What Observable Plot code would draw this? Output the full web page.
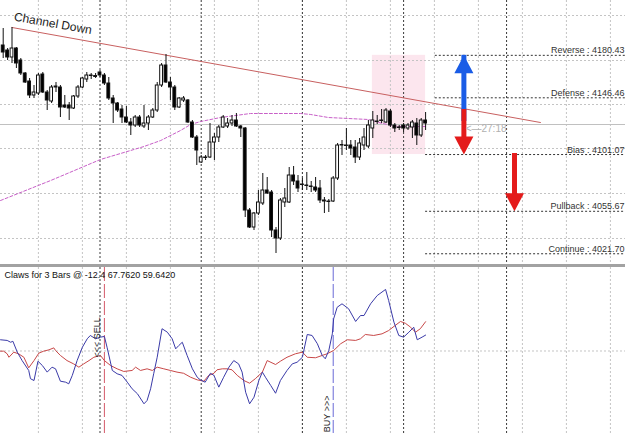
<!DOCTYPE html>
<html><head><meta charset="utf-8">
<script src="https://cdn.jsdelivr.net/npm/d3@7"></script>
<script src="https://cdn.jsdelivr.net/npm/@observablehq/plot@0.6"></script>
<style>
html,body{margin:0;padding:0;background:#fff;overflow:hidden;width:625px;height:433px}
#sep{height:3px;background:#a2a2a2}
svg{display:block}
</style></head><body>
<div id="main"></div><div id="sep"></div><div id="sub"></div>
<script>
// ---- candles (price) ----
const opens=[4188.3,4184.3,4178.7,4185.9,4176.3,4165.9,4159.5,4148.3,4149.9,4165.1,4150.7,4143.5,4154.7,4154.7,4140.3,4140.3,4137.9,4147.5,4154.7,4161.1,4164.3,4163.1,4166.7,4164.3,4157.9,4145.9,4141.9,4137.1,4130.7,4126.7,4124.3,4130.7,4123.5,4125.9,4130.7,4136.3,4156.3,4172.3,4158.7,4154.7,4138.7,4144.3,4144.3,4126.7,4114.7,4094.7,4098.3,4098.7,4110.7,4114.7,4122.7,4123.5,4125.9,4128.3,4123.5,4121.9,4056.3,4042.7,4053.9,4061.9,4072.3,4070.7,4040.3,4033.9,4062.7,4062.7,4084.3,4079.5,4077.1,4076.3,4075.5,4074.7,4073.9,4064.3,4063.5,4063.5,4081.9,4108.3,4108.3,4108.3,4106.7,4098.7,4108.3,4107.5,4121.9,4127.5,4127.9,4126.7,4135.5,4124.3,4122.7,4124.3,4121.9,4122.7,4125.9,4116.3,4128.3];
const closes=[4182.7,4178.7,4185.9,4173.9,4165.9,4158.7,4148.3,4150.7,4164.3,4150.7,4144.3,4154.7,4155.5,4138.7,4138.7,4137.9,4147.5,4154.7,4161.9,4164.3,4163.9,4163.9,4164.3,4157.9,4145.9,4141.9,4136.3,4130.7,4126.7,4124.3,4130.7,4124.3,4125.9,4130.7,4136.3,4156.3,4172.3,4158.7,4154.7,4138.7,4145.9,4145.9,4126.7,4114.7,4104.3,4098.7,4098.7,4110.7,4114.7,4122.7,4130.7,4125.9,4128.3,4123.5,4121.9,4056.3,4042.7,4053.9,4062.7,4072.3,4069.9,4040.3,4033.9,4064.3,4065.9,4084.3,4079.5,4073.9,4076.7,4075.9,4075.1,4072.3,4064.3,4063.5,4063.1,4081.9,4108.3,4108.7,4107.9,4105.9,4098.7,4109.9,4114.7,4124.3,4128.3,4127.1,4128.3,4136.3,4124.3,4121.9,4122.3,4121.9,4124.3,4126.7,4116.3,4128.3,4125.9];
const highs=[4201.9,4185.9,4202.7,4186.7,4177.9,4166.7,4161.9,4156.3,4165.9,4166.7,4152.3,4156.3,4158.7,4156.3,4148.3,4142.7,4148.3,4156.3,4162.7,4166.7,4165.9,4165.9,4168.3,4165.9,4162.7,4148.3,4142.7,4140.3,4139.5,4129.9,4132.3,4132.3,4140.3,4132.3,4137.9,4158.7,4173.9,4181.1,4162.7,4156.3,4146.7,4147.5,4145.1,4128.3,4116.3,4100.3,4100.3,4125.9,4117.9,4124.3,4132.3,4129.9,4132.3,4133.9,4124.3,4122.7,4057.9,4054.7,4072.3,4085.9,4082.7,4072.3,4042.7,4065.9,4073.9,4090.7,4091.5,4084.3,4081.9,4086.7,4079.5,4082.7,4080.3,4066.7,4065.1,4083.5,4109.9,4112.3,4121.9,4112.3,4112.3,4113.9,4121.9,4128.3,4135.5,4132.3,4137.1,4137.9,4137.1,4125.9,4124.3,4125.9,4125.9,4128.3,4129.9,4129.9,4134.7];
const lows=[4177.9,4176.3,4173.9,4169.9,4164.3,4157.9,4145.9,4145.9,4148.3,4149.9,4136.3,4141.9,4150.7,4130.7,4137.9,4128.3,4137.1,4145.9,4153.9,4158.7,4161.1,4161.9,4162.7,4156.3,4144.3,4125.9,4134.7,4125.9,4125.9,4116.3,4122.7,4122.7,4121.9,4120.3,4129.9,4134.7,4154.7,4157.9,4144.3,4136.3,4137.9,4142.7,4125.9,4113.9,4092.3,4093.9,4096.3,4097.9,4096.3,4110.7,4121.9,4121.9,4123.5,4122.7,4114.7,4050.7,4041.9,4040.3,4052.3,4060.3,4069.1,4034.7,4021.9,4032.3,4058.7,4061.9,4076.3,4070.7,4072.3,4072.3,4070.7,4070.7,4061.9,4053.9,4054.7,4062.7,4080.3,4100.3,4104.3,4100.3,4093.9,4096.3,4104.3,4105.9,4113.9,4125.1,4125.9,4125.9,4122.7,4118.7,4120.3,4118.7,4120.3,4113.9,4108.3,4114.7,4120.3];

// moving average (bar, price)
const maLine=[[-0.6,4064.3],[10.8,4080.3],[22.1,4097.1],[32.0,4107.5],[35.8,4112.3],[40.3,4120.3],[42.6,4125.1],[44.9,4127.5],[49.4,4130.7],[56.2,4133.9],[67.6,4133.9],[69.9,4133.1],[73.9,4130.7],[83.0,4129.1],[86.2,4125.9],[89.8,4123.5],[96.0,4123.5]];
// channel down trend line (bar, price)
const channelLine=[[2,4202.7],[122.1,4126.7]];
const channelLabel="Channel Down";

// levels
const levelNames=["Reverse","Defense","Bias","Pullback","Continue"];
const levelValues=[4180.43,4146.46,4101.07,4055.67,4021.70];
const levelStartBars=[98.2,98.2,96,96,96];

// zone
const zoneBars=[83.9,96];
const zonePrices=[4101.07,4180.43];

// arrows
const arrowBars=[104.7,104.7,116.2];
const arrowFrom=[4138.7,4137.1,4101.9];
const arrowTo=[4180.43,4101.07,4055.67];
const arrowColors=["#1a5ce6","#e41b1b","#e41b1b"];

const bidPrice=4125.1;
const timerText="<\u201427:18";
const timerBar=105.1, timerPrice=4121.9;

// grid
const gridBars=[8,18,28,38,48,58,68,78,88,98,108,118,128,138];
const separatorBars=[22,45,68,91,114.4];
const gridPrices=[4212.3,4176.3,4141.1,4105.9,4069.9,4033.9];

// oscillator (bar, value 0..100)
const blueLine=[[-0.6,56.8],[0.9,56.4],[1.7,55.3],[2.2,55.9],[3.2,49.3],[4.3,44.2],[5.8,38.2],[6.2,33.2],[7.0,32.1],[7.9,43.8],[8.9,41.2],[10.0,37.2],[11.1,40.2],[11.9,39.2],[13.0,31.7],[14.2,31.1],[14.9,30.1],[15.7,35.2],[16.8,44.2],[18.0,52.3],[19.1,57.4],[19.8,59.4],[21.0,57.4],[22.1,58.4],[23.0,58.8],[23.6,52.3],[24.8,38.2],[25.9,36.2],[27.0,35.2],[28.2,31.1],[29.3,27.1],[30.5,24.1],[32.0,18.0],[32.7,20.0],[33.5,27.1],[34.2,36.2],[35.0,46.2],[36.1,63.5],[37.3,61.4],[38.4,57.4],[39.2,51.3],[39.9,53.3],[40.7,55.3],[41.8,47.3],[43.0,39.2],[44.1,34.1],[44.8,32.5],[45.9,31.1],[47.1,36.5],[47.9,35.2],[49.0,28.1],[50.1,34.1],[51.3,40.2],[52.4,44.2],[53.5,42.2],[54.3,37.2],[55.1,25.0],[56.0,18.0],[57.0,22.0],[58.1,32.1],[58.9,37.2],[59.6,34.1],[60.8,29.1],[61.9,24.4],[63.0,32.1],[64.5,38.2],[65.7,42.2],[66.8,43.2],[68.0,46.2],[69.1,60.0],[70.2,59.4],[71.4,54.4],[72.5,47.3],[73.2,45.3],[74.0,50.3],[74.8,60.4],[75.1,69.5],[75.9,76.5],[77.0,78.6],[78.5,75.6],[80.1,67.9],[81.2,71.5],[82.0,71.5],[83.5,78.6],[85.0,83.6],[86.9,87.3],[87.6,80.6],[88.8,67.5],[89.9,59.4],[91.0,58.4],[92.2,61.4],[93.3,64.4],[94.1,56.8],[95.2,58.4],[96.0,59.64]];
const redLine=[[-0.6,49.9],[0.1,49.9],[0.9,48.3],[1.3,46.2],[2.4,49.3],[3.5,48.3],[4.7,46.2],[5.8,39.8],[7.0,44.2],[8.1,48.7],[9.2,49.9],[10.4,50.7],[11.5,51.9],[11.9,50.3],[13.0,47.3],[14.5,44.2],[16.0,42.2],[17.2,40.2],[18.3,42.2],[19.5,44.2],[20.6,46.2],[22.1,47.3],[23.0,44.2],[24.4,41.2],[25.9,39.2],[27.4,37.6],[29.3,38.2],[30.1,40.2],[31.2,38.2],[32.7,39.2],[33.9,38.2],[35.0,40.2],[36.5,39.2],[38.0,38.2],[39.5,37.2],[41.0,36.5],[42.6,34.1],[44.1,32.5],[45.6,31.7],[46.7,35.2],[47.9,36.5],[48.6,38.6],[49.8,39.2],[50.9,39.2],[52.0,38.6],[53.2,35.2],[54.7,32.1],[56.0,30.5],[57.3,33.2],[58.9,37.2],[60.0,44.2],[61.9,41.8],[63.0,43.8],[64.5,46.2],[66.4,48.3],[68.0,49.3],[69.1,46.2],[71.0,45.9],[72.5,47.3],[73.6,48.3],[75.1,50.3],[76.7,54.4],[78.2,56.8],[80.1,56.4],[81.2,57.4],[82.3,60.0],[84.2,59.4],[86.1,60.4],[87.6,62.4],[89.1,65.5],[90.3,67.9],[91.4,66.8],[92.6,64.4],[93.7,61.4],[94.8,63.5],[96.0,67.76]];
const oscLabel="Claws for 3 Bars @ -12.4 67.7620 59.6420";
const sellBar=23, buyBar=75;
const sellText="<<< SELL", buyText="BUY >>>";
const sellTextY=46.1, buyTextY=0.8;
const midLevel=50;

// ---- build ----
const FONT="Liberation Sans, Arial, sans-serif";
const xDom=[-0.614,141.43];
const candles=opens.map((o,i)=>({i,o,c:closes[i],h:highs[i],l:lows[i]}));
const levels=levelNames.map((n,k)=>({n,v:levelValues[k],s:levelStartBars[k]}));
const arrows=arrowBars.map((b,k)=>({b,from:arrowFrom[k],to:arrowTo[k],color:arrowColors[k]}));
const upA=arrows.filter(a=>a.to>a.from), downA=arrows.filter(a=>a.to<a.from);
const headUp={draw(ctx,size){const k=Math.sqrt(size/158);ctx.moveTo(0,0);ctx.lineTo(-9.5*k,18*k);ctx.lineTo(9.5*k,18*k);ctx.closePath();}};
const headDown={draw(ctx,size){const k=Math.sqrt(size/158);ctx.moveTo(0,0);ctx.lineTo(-9.5*k,-18*k);ctx.lineTo(9.5*k,-18*k);ctx.closePath();}};

const main=Plot.plot({
  width:625,height:264,margin:0,
  style:{fontFamily:FONT,fontSize:"9px",background:"#fff"},
  x:{domain:xDom,axis:null},
  y:{domain:[4013.1,4224.3],axis:null},
  color:{type:"identity"},
  marks:[
    Plot.rect([0],{x1:()=>zoneBars[0],x2:()=>zoneBars[1],y1:()=>zonePrices[0],y2:()=>zonePrices[1],fill:"#fce6ee"}),
    Plot.ruleX(gridBars,{stroke:"#c4c4c4",strokeDasharray:"2,2"}),
    Plot.ruleY(gridPrices,{stroke:"#c4c4c4",strokeDasharray:"2,2"}),
    Plot.ruleX(separatorBars,{stroke:"#3a3a3a",strokeDasharray:"2,2"}),
    Plot.ruleY([bidPrice],{stroke:"#c0c0c0"}),
    Plot.ruleY(levels,{y:"v",x1:"s",x2:()=>142,stroke:"#333",strokeDasharray:"2,2"}),
    Plot.text(levels,{x:()=>141.2,y:"v",text:d=>`${d.n} : ${d.v.toFixed(2)}`,textAnchor:"end",lineAnchor:"bottom",dy:-2,fill:"#333",fontSize:9}),
    Plot.line(maLine,{x:d=>d[0],y:d=>d[1],stroke:"#c860c8",strokeDasharray:"3,2",strokeWidth:1}),
    Plot.line(channelLine,{x:d=>d[0],y:d=>d[1],stroke:"#c86060",strokeWidth:1}),
    Plot.ruleX(candles,{x:"i",y1:"l",y2:"h",stroke:"#111"}),
    Plot.rect(candles,{x1:d=>d.i-0.32,x2:d=>d.i+0.32,y1:"o",y2:"c",fill:d=>d.c>=d.o?"#ffffff":"#000000",stroke:"#111",strokeWidth:1}),
    Plot.ruleX(upA,{x:"b",y1:"from",y2:"to",stroke:"color",strokeWidth:5,insetTop:14}),
    Plot.ruleX(downA,{x:"b",y1:"from",y2:"to",stroke:"color",strokeWidth:5,insetBottom:14}),
    Plot.dot(upA,{x:"b",y:"to",symbol:headUp,r:7.1,fill:"color",stroke:null}),
    Plot.dot(downA,{x:"b",y:"to",symbol:headDown,r:7.1,fill:"color",stroke:null}),
    Plot.text([channelLabel],{x:()=>2.34,y:()=>4208.3,text:d=>d,rotate:10,textAnchor:"start",lineAnchor:"bottom",fontSize:12,fill:"#222"}),
    Plot.text([timerText],{x:()=>timerBar,y:()=>timerPrice,text:d=>d,textAnchor:"start",fontSize:10,fill:"#b0b0b0"})
  ]
});
document.getElementById("main").appendChild(main);

const sub=Plot.plot({
  width:625,height:166,margin:0,
  style:{fontFamily:FONT,fontSize:"9px",background:"#fff"},
  x:{domain:xDom,axis:null},
  y:{domain:[0,100.6],axis:null},
  marks:[
    Plot.ruleX(gridBars,{stroke:"#c4c4c4",strokeDasharray:"2,2"}),
    Plot.ruleY([midLevel],{stroke:"#c4c4c4",strokeDasharray:"2,2"}),
    Plot.ruleX(separatorBars,{stroke:"#3a3a3a",strokeDasharray:"2,2"}),
    Plot.ruleX([sellBar],{stroke:"#d45a6a",strokeDasharray:"14,3"}),
    Plot.ruleX([buyBar],{stroke:"#6a6ad6",strokeDasharray:"14,3"}),
    Plot.line(redLine,{x:d=>d[0],y:d=>d[1],stroke:"#c84848",strokeWidth:1}),
    Plot.line(blueLine,{x:d=>d[0],y:d=>d[1],stroke:"#3a3aa8",strokeWidth:1}),
    Plot.text([sellText],{x:()=>sellBar,y:()=>sellTextY,text:d=>d,rotate:-90,textAnchor:"start",dx:-7,fontSize:9,fill:"#222"}),
    Plot.text([buyText],{x:()=>buyBar,y:()=>buyTextY,text:d=>d,rotate:-90,textAnchor:"start",dx:-6,fontSize:9,fill:"#222"}),
    Plot.text([oscLabel],{frameAnchor:"top-left",text:d=>d,textAnchor:"start",lineAnchor:"top",dx:4,dy:4,fontSize:9,fill:"#111"})
  ]
});
document.getElementById("sub").appendChild(sub);
</script>
</body></html>
